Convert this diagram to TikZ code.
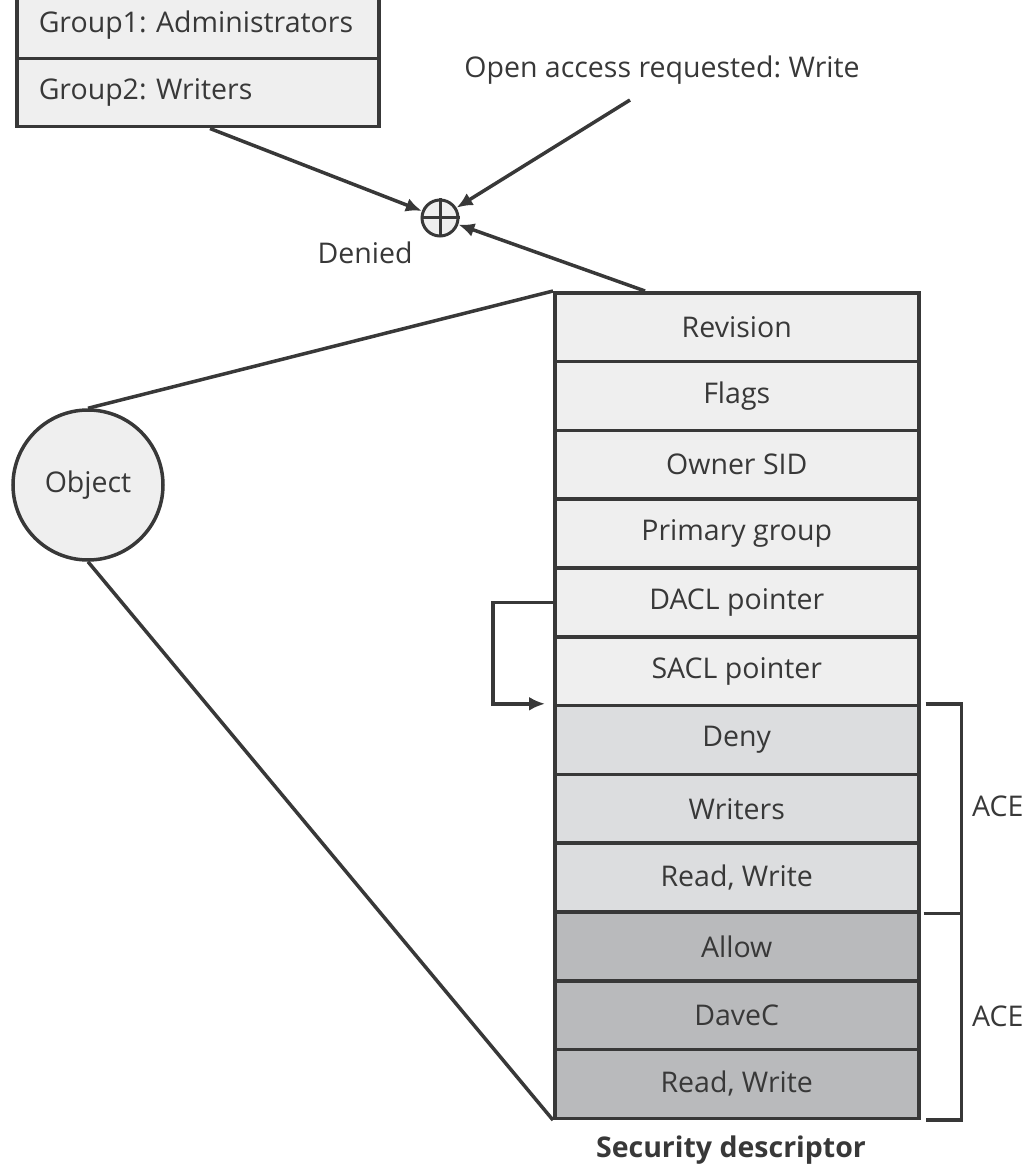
\documentclass[tikz,border=0pt]{standalone}
\usepackage{fontspec}
\setmainfont{Open Sans}
\usetikzlibrary{arrows.meta,calc}
\definecolor{ink}{HTML}{383838}
\definecolor{pale}{HTML}{EFEFEF}
\definecolor{aceone}{HTML}{DCDDDF}
\definecolor{acetwo}{HTML}{B9BABC}
\frenchspacing
\begin{document}
\begin{tikzpicture}[x=1pt,y=-1pt,
  every node/.style={font=\fontsize{28.5}{32}\selectfont, text=ink},
  cell/.style={draw=ink, line width=3.5pt, minimum width=364pt, minimum height=68.8pt, inner sep=0pt, anchor=north west},
  grp/.style={draw=ink, line width=3.5pt, minimum width=362pt, minimum height=68pt, inner ysep=0pt, inner xsep=22pt, anchor=north west, fill=pale, text width=318pt, align=left},
  conn/.style={draw=ink, line width=3.5pt},
  arr/.style={conn, -{Latex[length=16pt,width=14pt]}},
  lbl/.style={inner sep=0pt}
]
\useasboundingbox (0,0) rectangle (1030,1166);
% group boxes
\node[grp] (g1) at (15,-11) {Group1: Administrators};
\node[grp] (g2) at (15,57) {Group2: Writers};
% request label
\node[lbl] (req) at (662,70) {Open access requested: Write};
\coordinate (reqend) at (630,100);
% combiner
\node[draw=ink, fill=pale, line width=3pt, circle, minimum size=36pt, inner sep=0pt] (op) at (440,218) {};
\draw[ink, line width=3pt] (op.north) -- (op.south) (op.west) -- (op.east);
\node[lbl] (den) at (365,253) {Denied};
% security descriptor rows
\node[cell, fill=pale] (r1) at (553,291.0) {Revision};
\node[cell, fill=pale] (r2) at (553,359.8) {Flags};
\node[cell, fill=pale] (r3) at (553,428.6) {Owner SID};
\node[cell, fill=pale] (r4) at (553,497.4) {Primary group};
\node[cell, fill=pale] (r5) at (553,566.2) {DACL pointer};
\node[cell, fill=pale] (r6) at (553,635.0) {SACL pointer};
\node[cell, fill=aceone] (r7) at (553,703.8) {Deny};
\node[cell, fill=aceone] (r8) at (553,772.6) {Writers};
\node[cell, fill=aceone] (r9) at (553,841.4) {Read, Write};
\node[cell, fill=acetwo] (r10) at (553,910.2) {Allow};
\node[cell, fill=acetwo] (r11) at (553,979.0) {DaveC};
\node[cell, fill=acetwo] (r12) at (553,1047.8) {Read, Write};
\node[lbl, font=\fontsize{28.5}{32}\selectfont\bfseries] (sd) at (731,1150) {Security descriptor};
% object
\node[draw=ink, fill=pale, line width=3.5pt, circle, minimum size=150pt, inner sep=0pt] (obj) at (88,485) {Object};
\draw[conn] (obj.north) -- (r1.north west);
\draw[conn] (obj.south) -- (r12.south west);
% arrows to combiner
\coordinate (gstart) at ($(g2.south west)+(195,0)$);
\coordinate (sdstart) at ($(r1.north west)+(92,0)$);
\draw[arr] (gstart) -- (op);
\draw[arr] (reqend) -- (op);
\draw[arr] (sdstart) -- (op);
% DACL pointer
\draw[arr] (r5.west) -- ++(-60,0) |- ($(r7.north west)+(-8,0)$);
% ACE brackets
\draw[conn] ($(r7.north east)+(5,0)$) -- ++(36,0) |- ($(r12.south east)+(5,0)$);
\draw[conn] ($(r9.south east)+(3,0)$) -- ++(38,0);
\node[lbl, anchor=west] (ace1) at (972,806) {ACE};
\node[lbl, anchor=west] (ace2) at (972,1016) {ACE};
\end{tikzpicture}
\end{document}
